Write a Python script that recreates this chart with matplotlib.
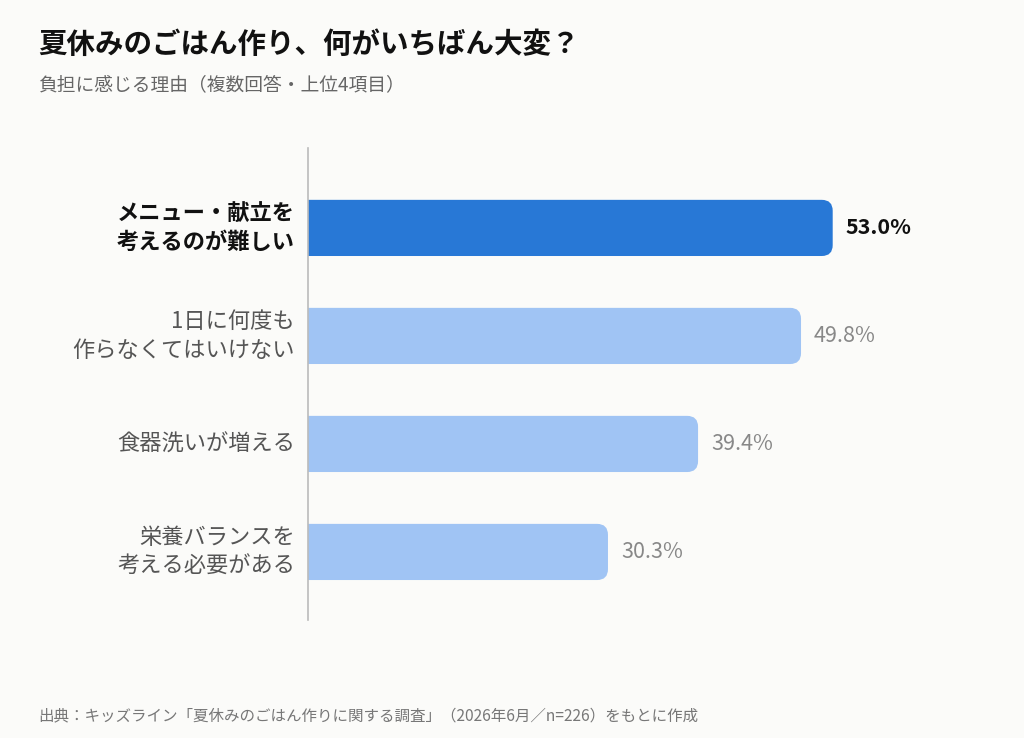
import matplotlib.pyplot as plt
from matplotlib.patches import FancyBboxPatch
import matplotlib.transforms as mtransforms

plt.rcParams['font.family'] = ['Noto Sans CJK JP', 'DejaVu Sans']

labels = ['メニュー・献立を\n考えるのが難しい', '1日に何度も\n作らなくてはいけない',
          '食器洗いが増える', '栄養バランスを\n考える必要がある']
values = [53.0, 49.8, 39.4, 30.3]
highlight = 0

bg = '#fbfbf9'
fig = plt.figure(figsize=(10.24, 7.38), dpi=100, facecolor=bg)
ax = fig.add_axes([308 / 1024, 1 - 620 / 738, 692 / 1024, 472 / 738])
ax.set_facecolor(bg)
xmax = 692 / 9.9
ax.set_xlim(0, xmax)
ax.set_ylim(3.63, -0.74)

aspect = (9.9 / 108)
h = 0.52
trans = mtransforms.blended_transform_factory(ax.transAxes, ax.transData)
for i, (lab, v) in enumerate(zip(labels, values)):
    hl = i == highlight
    color = '#2878d6' if hl else '#a0c4f4'
    box = FancyBboxPatch((-2, i - h / 2), v + 2, h,
                         boxstyle='round,pad=0,rounding_size=1.1',
                         mutation_aspect=aspect, fc=color, ec='none')
    ax.add_patch(box)
    ax.text(v + 1.3, i, f'{v:.1f}%', va='center', ha='left', fontsize=15.5,
            color='#111111' if hl else '#888888',
            fontweight='bold' if hl else 'normal')
    ax.text(-13 / 692, i, lab, transform=trans, va='center', ha='right',
            fontsize=16, linespacing=1.3,
            color='#111111' if hl else '#555555',
            fontweight='bold' if hl else 'normal')

for s in ['top', 'right', 'bottom']:
    ax.spines[s].set_visible(False)
ax.spines['left'].set_color('#bbbbbb')
ax.spines['left'].set_linewidth(1.2)
ax.set_xticks([])
ax.set_yticks([])

fig.text(38 / 1024, 1 - 45 / 738, '夏休みのごはん作り、何がいちばん大変？',
         fontsize=20.5, fontweight='bold', color='#111111', va='center')
fig.text(38 / 1024, 1 - 85 / 738, '負担に感じる理由（複数回答・上位4項目）',
         fontsize=13.5, color='#666666', va='center')
fig.text(38 / 1024, 1 - 716 / 738,
         '出典：キッズライン「夏休みのごはん作りに関する調査」（2026年6月／n=226）をもとに作成',
         fontsize=11.2, color='#777777', va='center')

fig.savefig('out.png', dpi=100, facecolor=bg)
